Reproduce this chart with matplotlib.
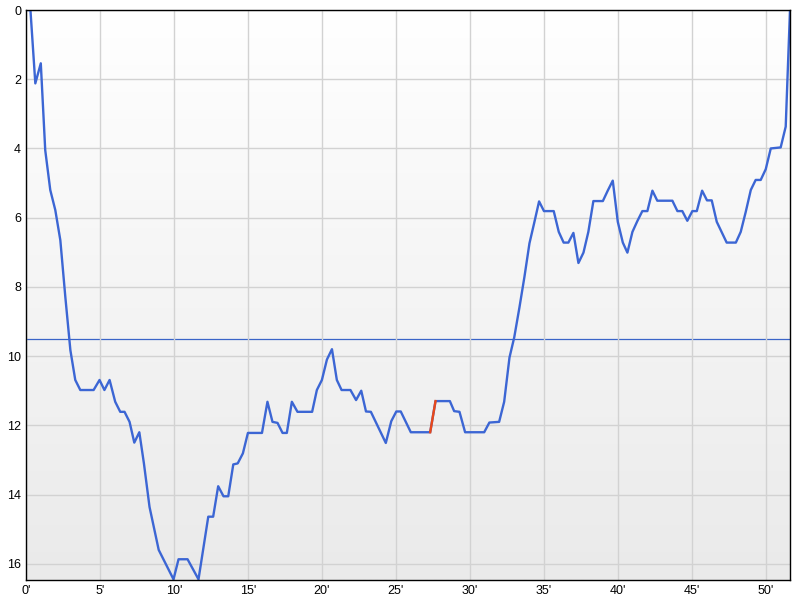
import numpy as np
import matplotlib
matplotlib.use("Agg")
import matplotlib.pyplot as plt
from matplotlib.colors import LinearSegmentedColormap

# race time (minutes) and position
minutes = [0, 0.3, 0.63, 1.0, 1.3, 1.64, 1.98, 2.32, 2.66, 3.0, 3.33, 3.67, 4.57, 4.97,
           5.3, 5.65, 6.03, 6.37, 6.66, 7.0, 7.32, 7.66, 7.97, 8.35, 8.97, 9.97, 10.31,
           10.92, 11.66, 12.32, 12.65, 12.99, 13.35, 13.67, 14.01, 14.31, 14.66, 15.0,
           15.95, 16.32, 16.66, 17.0, 17.34, 17.63, 17.97, 18.35, 19.34, 19.66, 20.0,
           20.34, 20.68, 21.01, 21.33, 21.93, 22.31, 22.66, 22.98, 23.31, 24.32, 24.69,
           25.03, 25.33, 26.01, 27.32, 27.68, 28.65, 28.94, 29.3, 29.68, 30.97, 31.32,
           31.98, 32.32, 32.68, 33.0, 33.35, 33.69, 34.03, 34.34, 34.68, 35.01, 35.67,
           36.01, 36.34, 36.66, 37.0, 37.34, 37.68, 38.01, 38.35, 38.99, 39.32, 39.66,
           40.0, 40.34, 40.65, 40.99, 41.32, 41.66, 42.0, 42.34, 42.67, 43.69, 44.03,
           44.36, 44.7, 45.04, 45.34, 45.7, 46.03, 46.35, 46.69, 47.36, 47.98, 48.31,
           48.65, 48.99, 49.32, 49.66, 50.0, 50.34, 51.01, 51.35, 51.64]
position = [0, 0, 2.12, 1.54, 4.05, 5.2, 5.78, 6.65, 8.3, 9.83, 10.69, 10.98, 10.98, 10.69,
            10.98, 10.69, 11.32, 11.61, 11.61, 11.9, 12.5, 12.2, 13.1, 14.36, 15.6, 16.45, 15.87,
            15.87, 16.45, 14.64, 14.64, 13.76, 14.05, 14.05, 13.13, 13.1, 12.81, 12.22,
            12.22, 11.32, 11.9, 11.93, 12.22, 12.22, 11.32, 11.61, 11.61, 10.98, 10.69,
            10.1, 9.8, 10.69, 10.98, 10.98, 11.27, 11.0, 11.6, 11.61, 12.51, 11.88,
            11.6, 11.6, 12.2, 12.2, 11.3, 11.3, 11.59, 11.61, 12.2, 12.2, 11.92,
            11.9, 11.32, 10.04, 9.46, 8.6, 7.71, 6.74, 6.17, 5.53, 5.81, 5.81,
            6.41, 6.72, 6.72, 6.44, 7.31, 7.01, 6.41, 5.52, 5.52, 5.22, 4.93,
            6.12, 6.72, 7.01, 6.41, 6.1, 5.81, 5.81, 5.22, 5.51, 5.51, 5.81,
            5.81, 6.09, 5.81, 5.81, 5.22, 5.5, 5.5, 6.12, 6.72, 6.72, 6.41,
            5.83, 5.2, 4.91, 4.91, 4.6, 4.0, 3.97, 3.37, 0]

# highlighted stretch
red_minutes = [27.32, 27.68]
red_position = [12.2, 11.3]

average_line = 9.5

x_ticks = [0, 5, 10, 15, 20, 25, 30, 35, 40, 45, 50]
x_labels = [f"{m}'" for m in x_ticks]
y_ticks = [0, 2, 4, 6, 8, 10, 12, 14, 16]

plt.rcParams['font.family'] = ['Liberation Sans', 'DejaVu Sans']

fig = plt.figure(figsize=(8, 6), dpi=100)
ax = fig.add_axes([0.0325, 0.0333, 0.955, 0.95])

x_max = 51.64
y_max = 16.47

# background gradient, white at top to light grey at bottom
grad = np.linspace(0, 1, 256).reshape(-1, 1)
cmap = LinearSegmentedColormap.from_list("bg", ["#ffffff", "#eaeaea"])
ax.imshow(grad, cmap=cmap, aspect="auto", extent=[0, x_max, y_max, 0], zorder=0)

ax.set_xlim(0, x_max)
ax.set_ylim(y_max, 0)

ax.set_xticks(x_ticks)
ax.set_xticklabels(x_labels)
ax.set_yticks(y_ticks)
ax.tick_params(length=0, labelsize=9, pad=3.5, colors="black")
ax.grid(True, color="#d2d2d2", linewidth=1.0, zorder=1)
ax.set_axisbelow(False)

for s in ax.spines.values():
    s.set_color("black")
    s.set_linewidth(1.0)
    s.set_zorder(5)

ax.axhline(average_line, color="#3a64c8", linewidth=0.9, zorder=2)

ax.plot(minutes, position, color="#3c66d4", linewidth=1.7, zorder=3)
ax.plot(red_minutes, red_position, color="#e8481a", linewidth=1.7, zorder=4)

fig.savefig("out.png", dpi=100)
